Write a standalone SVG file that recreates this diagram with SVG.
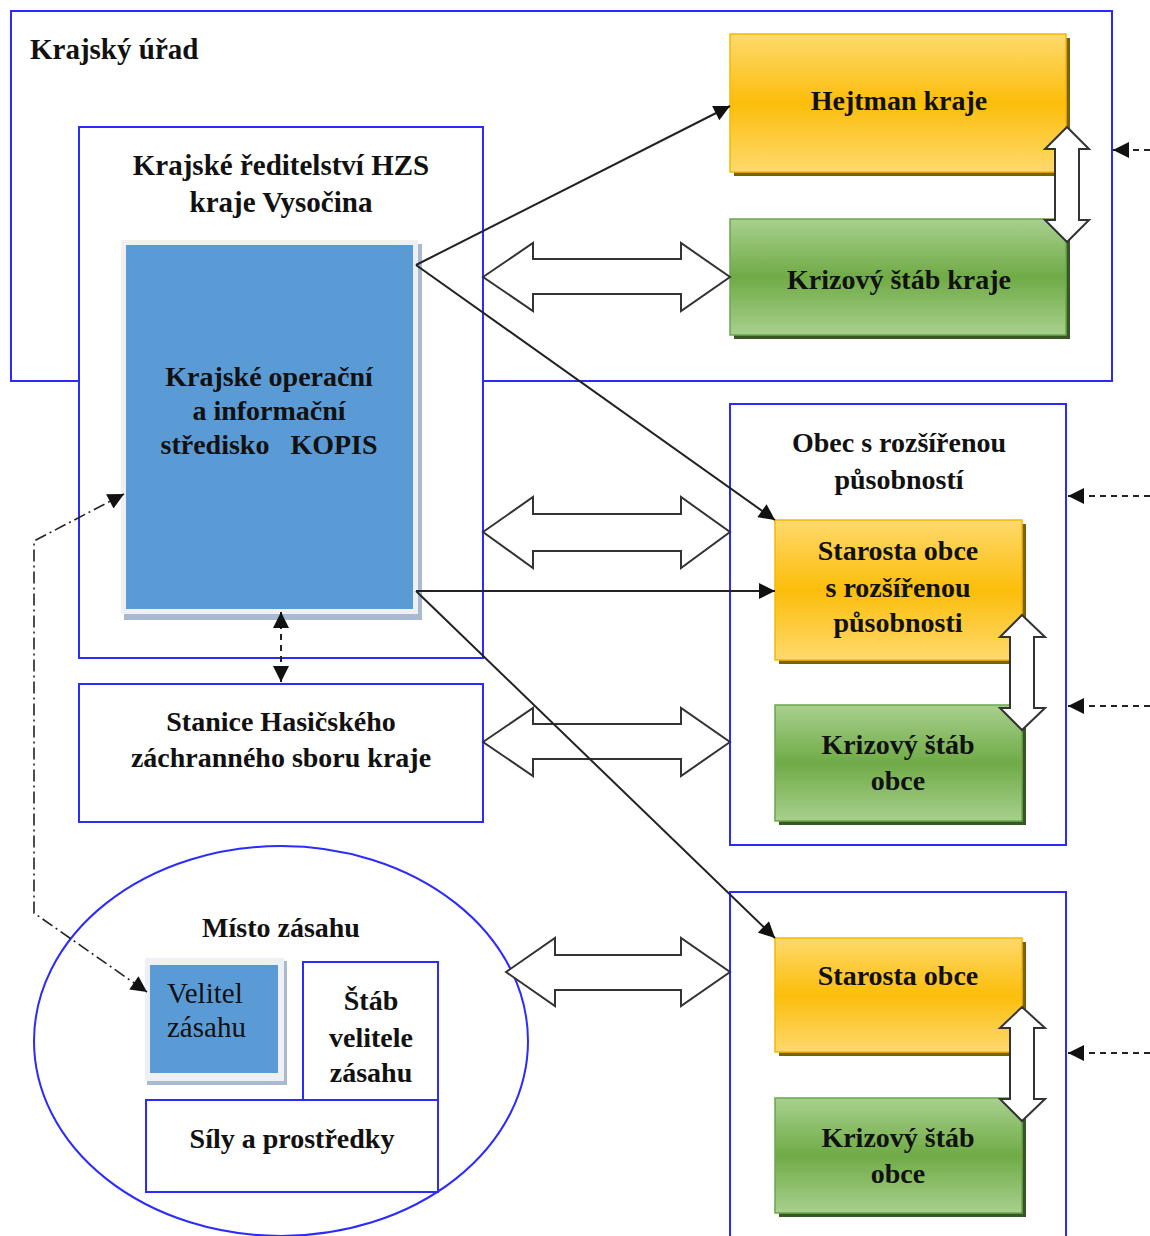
<svg xmlns="http://www.w3.org/2000/svg" width="1150" height="1236" viewBox="0 0 1150 1236" font-family="'Liberation Serif', 'Times New Roman', Times, serif">
<style>
.frame{fill:none;stroke:#2b2bff;stroke-width:2}
.wbox{fill:#fff;stroke:#2b2bff;stroke-width:2}
.t{font-weight:bold;font-size:28px;fill:#111;text-anchor:middle}
.tr{font-size:29px;fill:#111}
.dbl{fill:#fff;stroke:#333;stroke-width:2;stroke-linejoin:miter}
.ln{fill:none;stroke:#222;stroke-width:2}
.dash{fill:none;stroke:#222;stroke-width:2;stroke-dasharray:6 5}
.dd{fill:none;stroke:#222;stroke-width:1.6;stroke-dasharray:12 4 2 4}
.oshadow{fill:#7f6000}
.gshadow{fill:#385723}
.orange{fill:url(#og);stroke:#f5b800;stroke-width:1.5}
.green{fill:url(#gg);stroke:#6aa84f;stroke-width:1.5}
</style>
<defs>
<linearGradient id="og" x1="0" y1="0" x2="0" y2="1">
<stop offset="0" stop-color="#fed96d"/>
<stop offset="0.5" stop-color="#fcbe0b"/>
<stop offset="1" stop-color="#fed96d"/>
</linearGradient>
<linearGradient id="gg" x1="0" y1="0" x2="0" y2="1">
<stop offset="0" stop-color="#a9d08e"/>
<stop offset="0.5" stop-color="#6fab46"/>
<stop offset="1" stop-color="#a9d08e"/>
</linearGradient>
<marker id="ahb" viewBox="0 0 10 10" refX="10" refY="5" markerWidth="18" markerHeight="16" markerUnits="userSpaceOnUse" orient="auto-start-reverse">
<path d="M0,0 L10,5 L0,10 z" fill="#111"/>
</marker>
</defs>
<rect width="1150" height="1236" fill="#fff"/>

<g id="krajsky-urad">
<rect class="frame" x="11" y="11" width="1101" height="370"/>
<text class="t" x="30" y="59" style="text-anchor:start;font-size:29px">Krajský úřad</text>
</g>

<g id="krajske-reditelstvi">
<rect class="wbox" x="79" y="127" width="404" height="531"/>
<text class="t" x="281" y="175" style="font-size:29px">Krajské ředitelství HZS</text>
<text class="t" x="281" y="212" style="font-size:29px">kraje Vysočina</text>
</g>

<g id="kopis">
<rect x="124" y="244" width="298" height="376" fill="#a9b9cf"/>
<rect x="121" y="240" width="297" height="374" fill="#eef0f3"/>
<rect x="126" y="245" width="287" height="364" fill="#5b9bd5"/>
<text class="t" x="269" y="386">Krajské operační</text>
<text class="t" x="269" y="420">a informační</text>
<text class="t" x="269" y="454" xml:space="preserve">středisko   KOPIS</text>
</g>

<g id="stanice">
<rect class="wbox" x="79" y="684" width="404" height="138"/>
<text class="t" x="281" y="731">Stanice Hasičského</text>
<text class="t" x="281" y="767">záchranného sboru kraje</text>
</g>

<g id="misto-zasahu">
<ellipse cx="281" cy="1041" rx="247" ry="195" fill="#fff" stroke="#2b2bff" stroke-width="2"/>
<text class="t" x="281" y="937">Místo zásahu</text>
</g>

<g id="velitel-zasahu">
<rect x="147" y="961" width="140" height="124" fill="#a9b9cf"/>
<rect x="145" y="958" width="139" height="123" fill="#eef0f3"/>
<rect x="150" y="965" width="128" height="108" fill="#5b9bd5"/>
<text class="tr" x="167" y="1003">Velitel</text>
<text class="tr" x="167" y="1037">zásahu</text>
</g>

<g id="stab-velitele">
<rect class="wbox" x="303" y="962" width="135" height="138"/>
<text class="t" x="371" y="1010">Štáb</text>
<text class="t" x="371" y="1047">velitele</text>
<text class="t" x="371" y="1082">zásahu</text>
</g>

<g id="sily-prostredky">
<rect class="wbox" x="146" y="1100" width="292" height="92"/>
<text class="t" x="292" y="1148">Síly a prostředky</text>
</g>

<g id="hejtman">
<rect class="oshadow" x="734" y="38" width="336" height="138"/>
<rect class="orange" x="730" y="34" width="336" height="138"/>
<text class="t" x="899" y="110">Hejtman kraje</text>
</g>

<g id="krizovy-stab-kraje">
<rect class="gshadow" x="734" y="223" width="336" height="116"/>
<rect class="green" x="730" y="219" width="336" height="116"/>
<text class="t" x="899" y="289">Krizový štáb kraje</text>
</g>

<g id="obec-rozsirena">
<rect class="wbox" x="730" y="404" width="336" height="441"/>
<text class="t" x="899" y="452">Obec s rozšířenou</text>
<text class="t" x="899" y="489">působností</text>
</g>

<g id="starosta-orp">
<rect class="oshadow" x="779" y="524" width="247" height="140"/>
<rect class="orange" x="775" y="520" width="247" height="140"/>
<text class="t" x="898" y="560">Starosta obce</text>
<text class="t" x="898" y="597">s rozšířenou</text>
<text class="t" x="898" y="632">působnosti</text>
</g>

<g id="krizovy-stab-orp">
<rect class="gshadow" x="779" y="709" width="247" height="116"/>
<rect class="green" x="775" y="705" width="247" height="116"/>
<text class="t" x="898" y="754">Krizový štáb</text>
<text class="t" x="898" y="790">obce</text>
</g>

<g id="obec">
<rect class="wbox" x="730" y="892" width="336" height="360"/>
</g>

<g id="starosta-obce">
<rect class="oshadow" x="779" y="942" width="247" height="114"/>
<rect class="orange" x="775" y="938" width="247" height="114"/>
<text class="t" x="898" y="985">Starosta obce</text>
</g>

<g id="krizovy-stab-obce">
<rect class="gshadow" x="779" y="1102" width="247" height="115"/>
<rect class="green" x="775" y="1098" width="247" height="115"/>
<text class="t" x="898" y="1147">Krizový štáb</text>
<text class="t" x="898" y="1183">obce</text>
</g>

<g id="connectors">
<path class="dbl" d="M483,277 L533,243 L533,259 L681,259 L681,243 L730,277 L681,311 L681,294 L533,294 L533,311 Z"/>
<path class="dbl" d="M483,532 L533,497 L533,514 L681,514 L681,497 L730,532 L681,568 L681,551 L533,551 L533,568 Z"/>
<path class="dbl" d="M483,742 L533,708 L533,724 L681,724 L681,708 L730,742 L681,776 L681,759 L533,759 L533,776 Z"/>
<path class="dbl" d="M506,972 L555,938 L555,955 L681,955 L681,938 L730,972 L681,1006 L681,990 L555,990 L555,1006 Z"/>
<path class="dbl" d="M1067,127 L1089,149 L1079,149 L1079,220 L1089,220 L1067,242 L1045,220 L1055,220 L1055,149 L1045,149 Z"/>
<path class="dbl" d="M1022,615 L1045,637 L1034,637 L1034,708 L1045,708 L1022,730 L1000,708 L1010,708 L1010,637 L1000,637 Z"/>
<path class="dbl" d="M1022,1007 L1045,1028 L1034,1028 L1034,1099 L1045,1099 L1022,1121 L1000,1099 L1010,1099 L1010,1028 L1000,1028 Z"/>
<path class="ln" d="M416,265 L730,106" marker-end="url(#ahb)"/>
<path class="ln" d="M416,265 L775,520" marker-end="url(#ahb)"/>
<path class="ln" d="M416,591 L775,591" marker-end="url(#ahb)"/>
<path class="ln" d="M416,591 L775,938" marker-end="url(#ahb)"/>
<path class="dash" d="M281,612 L281,682" marker-start="url(#ahb)" marker-end="url(#ahb)"/>
<path class="dd" d="M124,494 L34,541 L34,913 L147,992" marker-start="url(#ahb)" marker-end="url(#ahb)"/>
<path class="dash" d="M1150,150 L1113,150" marker-end="url(#ahb)"/>
<path class="dash" d="M1150,496 L1068,496" marker-end="url(#ahb)"/>
<path class="dash" d="M1150,706 L1068,706" marker-end="url(#ahb)"/>
<path class="dash" d="M1150,1053 L1068,1053" marker-end="url(#ahb)"/>
</g>
</svg>
